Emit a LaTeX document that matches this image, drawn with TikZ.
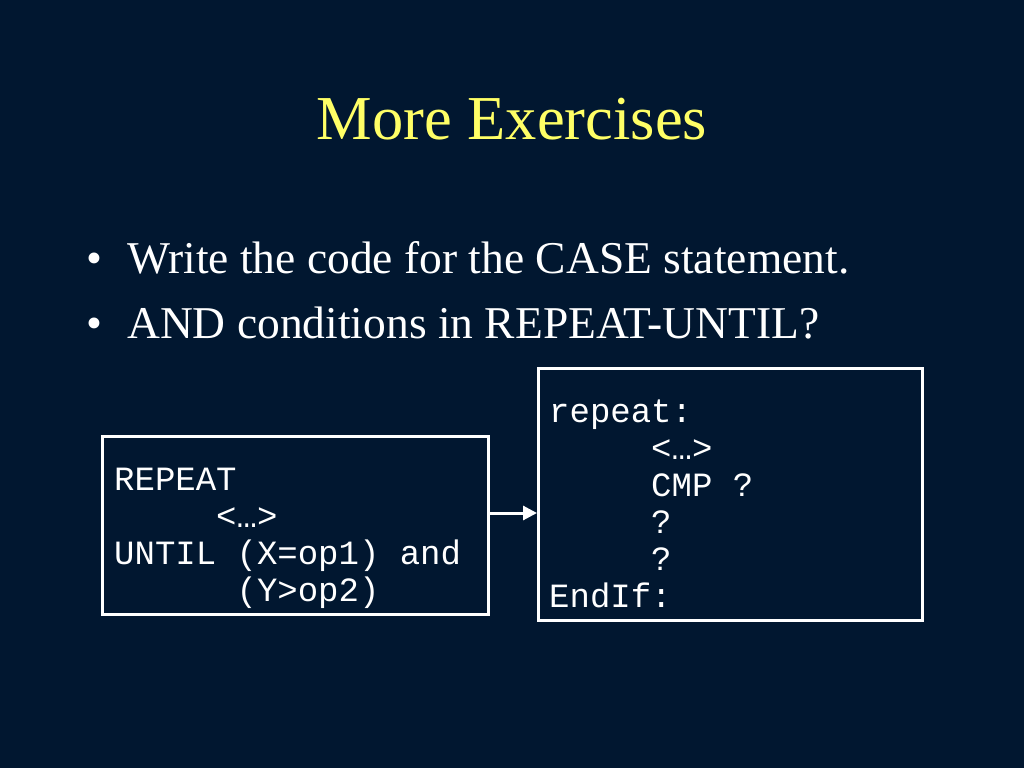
\documentclass[tikz,border=0pt]{standalone}
\usepackage{fontspec}
\setmainfont{Liberation Serif}
\setmonofont{Liberation Mono}
\usetikzlibrary{arrows.meta}
\definecolor{bg}{RGB}{1,23,48}
\definecolor{ttl}{RGB}{255,255,102}
\begin{document}
\begin{tikzpicture}[x=1pt,y=-1pt,
  box/.style={draw=white,line width=3pt,minimum width=#1,inner sep=0pt,anchor=north west},
  codeline/.style={anchor=base west,inner sep=0pt,text=white,font=\fontsize{34}{37}\ttfamily},
  bullettext/.style={anchor=base west,inner sep=0pt,text=white,font=\fontsize{45.5}{52}\selectfont},
  conn/.style={draw=white,line width=3pt,-{Triangle[length=14pt,width=14pt]}}]
\fill[bg] (0,0) rectangle (1024,768);
\useasboundingbox (0,0) rectangle (1024,768);
\node[anchor=base,inner sep=0pt,text=ttl,font=\fontsize{62.5}{70}\selectfont] (title) at (512,139) {More Exercises};
\node[bullettext] (b1) at (86,273) {•};
\node[bullettext] (t1) at (127,273) {Write the code for the CASE statement.};
\node[bullettext] (b2) at (86,338) {•};
\node[bullettext] (t2) at (127,338) {AND conditions in REPEAT-UNTIL?};
% boxes
\node[box=386pt,minimum height=178pt] (L) at (101,435) {};
\node[box=384pt,minimum height=252pt] (R) at (537,367) {};
% left code
\node[codeline] (l1) at (114,490) {REPEAT};
\node[codeline] (l2) at (114,527) {\phantom{xxxxx}<…>};
\node[codeline] (l3) at (114,564) {UNTIL (X=op1) and};
\node[codeline] (l4) at (114,601) {\phantom{xxxxxx}(Y>op2)};
% right code
\node[codeline] (r1) at (549,422) {repeat:};
\node[codeline] (r2) at (549,459) {\phantom{xxxxx}<…>};
\node[codeline] (r3) at (549,496) {\phantom{xxxxx}CMP ?};
\node[codeline] (r4) at (549,533) {\phantom{xxxxx}?};
\node[codeline] (r5) at (549,570) {\phantom{xxxxx}?};
\node[codeline] (r6) at (549,607) {EndIf:};
\coordinate (ay) at (0,513);
\draw[conn] (L.east |- ay) -- (R.west |- ay);
\end{tikzpicture}
\end{document}
